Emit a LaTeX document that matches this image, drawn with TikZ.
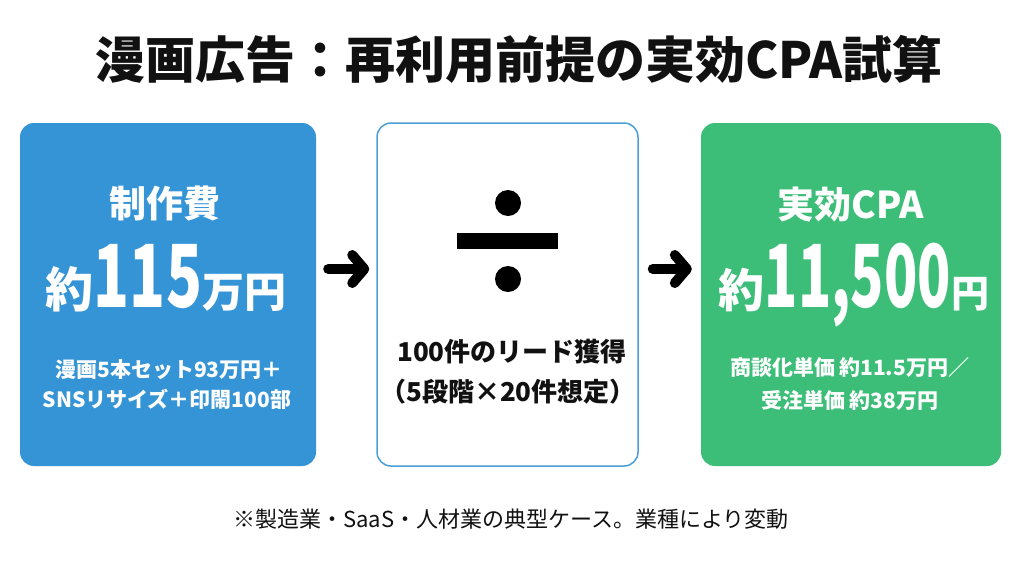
\documentclass[tikz,border=0pt]{standalone}
\usepackage{fontspec}
\usepackage{graphicx}
\setmainfont{Noto Sans CJK JP}
\usetikzlibrary{arrows.meta}
\definecolor{cblue}{RGB}{52,148,214}
\definecolor{cgreen}{RGB}{60,190,120}
\definecolor{cline}{RGB}{74,159,216}
\definecolor{ctext}{RGB}{17,17,17}
\newcommand{\fs}[1]{\fontsize{#1}{#1}\selectfont}
\begin{document}
\begin{tikzpicture}[x=1pt,y=-1pt,
  card/.style={rounded corners=14pt, inner sep=0pt, minimum width=#1},
  head/.style={font=\bfseries\fs{37}, text=white},
  sub/.style={font=\bfseries\fs{21}, text=white},
  mid/.style={font=\bfseries\fs{26}, text=ctext},
  bigarrow/.style={draw=black, line width=10pt, line cap=round,
    -{Straight Barb[length=12pt,width=28pt,line cap=round,line join=round]}},
  dot/.style={fill=black}
]
\useasboundingbox (0,0) rectangle (1024,576);
\fill[white] (0,0) rectangle (1024,576);

% title
\node[font=\bfseries\fs{50}, text=ctext] (title) at (519,59) {漫画広告：再利用前提の実効CPA試算};

% cards
\node[card=296pt, fill=cblue, minimum height=343pt] (L) at (168,294.5) {};
\node[card=261pt, fill=white, draw=cline, line width=1.5pt, minimum height=343pt] (M) at (507.5,294.5) {};
\node[card=300pt, fill=cgreen, minimum height=343pt] (R) at (851,294.5) {};

% left content
\node[head] (Lh) at (165,204) {制作費};
\node[anchor=base, text=white, font=\bfseries, inner sep=0pt] (Lb) at (166,307)
  {{\fs{48}約}\scalebox{0.68}[1]{\fs{87}115}{\fs{42}万円}};
\node[sub] (Ls1) at (169,370) {漫画5本セット93万円＋};
\node[sub] (Ls2) at (167,399) {SNSリサイズ＋印閙100部};

% middle content
\fill[dot] (508,203) circle[radius=13pt];
\fill[dot] (457,233) rectangle (558,249);
\fill[dot] (508,279) circle[radius=13pt];
\node[mid] (Mt1) at (512,352) {100件のリード獲得};
\node[mid] (Mt2) at (508,392) {（5段階×20件想定）};

% right content
\node[head] (Rh) at (851,205) {実効CPA};
\node[anchor=base, text=white, font=\bfseries, inner sep=0pt] (Rb) at (854,307)
  {{\fs{46}約}\scalebox{0.63}[1]{\fs{87}11,500}{\fs{38}円}};
\node[sub] (Rs1) at (850,367) {商談化単価\,約11.5万円／};
\node[sub] (Rs2) at (850,400) {受注単価\,約38万円};

% arrows
\draw[bigarrow] ([xshift=12pt,yshift=25.5pt]L.east) -- ([xshift=-7pt,yshift=25.5pt]M.west);
\draw[bigarrow] ([xshift=14pt,yshift=25.5pt]M.east) -- ([xshift=-9pt,yshift=25.5pt]R.west);

% note
\node[font=\fs{22}, text=ctext] (note) at (511,519) {※製造業・SaaS・人材業の典型ケース。業種により変動};
\end{tikzpicture}
\end{document}
